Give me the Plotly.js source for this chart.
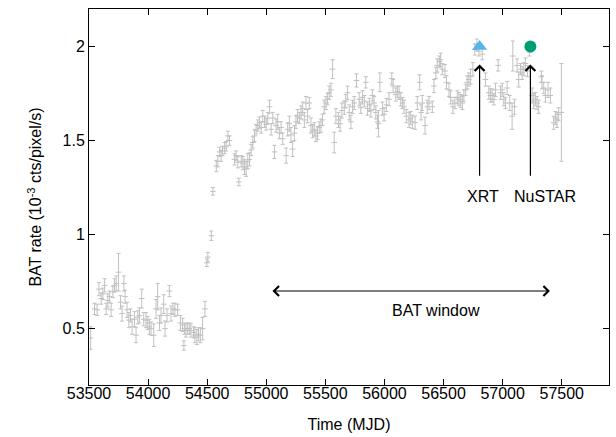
<!DOCTYPE html>
<html>
<head>
<meta charset="utf-8">
<script src="https://cdn.plot.ly/plotly-3.0.1.min.js"></script>
<style>html,body{margin:0;padding:0;background:#fff;}#chart{width:616px;height:437px;}</style>
</head>
<body>
<div id="chart"></div>
<script>
// BAT light curve (MJD, rate in 1e-3 cts/pixel/s, 1-sigma error)
const mjd = [53514,53547,53569,53584,53603,53617,53632,53645,53659,53674,53687,53702,53716,53730,53750,53767,53780,53795,53805,53822,53837,53851,53865,53885,53898,53913,53927,53946,53963,53983,53997,54011,54025,54048,54067,54081,54096,54109,54132,54143,54160,54180,54194,54211,54227,54250,54273,54292,54303,54307,54320,54335,54349,54362,54385,54396,54413,54427,54442,54461,54481,54497,54506,54535,54548,54577,54590,54605,54618,54630,54648,54661,54675,54689,54731,54745,54759,54768,54788,54802,54816,54830,54843,54858,54872,54886,54900,54914,54928,54942,54957,54970,54985,54999,55013,55027,55041,55055,55069,55083,55097,55111,55125,55139,55168,55181,55195,55209,55223,55238,55251,55265,55280,55294,55308,55322,55336,55350,55364,55378,55392,55406,55420,55434,55448,55463,55476,55490,55505,55519,55533,55547,55561,55575,55589,55611,55625,55640,55660,55672,55688,55702,55716,55730,55744,55763,55786,55800,55814,55830,55842,55856,55872,55885,55898,55912,55927,55941,55949,55961,55983,55997,56016,56039,56062,56073,56096,56110,56124,56138,56152,56166,56185,56208,56222,56236,56259,56278,56298,56310,56320,56343,56362,56377,56405,56419,56435,56447,56465,56475,56489,56512,56525,56546,56560,56579,56596,56616,56630,56645,56660,56672,56687,56700,56714,56729,56748,56765,56782,56799,56827,56855,56883,56897,56911,56926,56940,56962,56982,56996,57010,57024,57038,57060,57080,57086,57100,57122,57136,57151,57165,57179,57193,57210,57227,57249,57263,57277,57291,57305,57328,57333,57348,57362,57384,57404,57432,57446,57460,57474,57497];
const rate = [0.45,0.605,0.60,0.71,0.66,0.685,0.73,0.605,0.65,0.67,0.60,0.695,0.73,0.74,0.80,0.64,0.58,0.74,0.67,0.60,0.545,0.57,0.51,0.55,0.465,0.56,0.57,0.66,0.55,0.545,0.53,0.51,0.50,0.465,0.605,0.67,0.53,0.57,0.63,0.50,0.57,0.70,0.58,0.605,0.60,0.60,0.53,0.52,0.41,0.50,0.49,0.50,0.50,0.49,0.48,0.465,0.455,0.47,0.465,0.50,0.605,0.85,0.88,0.994,1.23,1.365,1.39,1.44,1.42,1.445,1.46,1.47,1.525,1.50,1.40,1.42,1.385,1.28,1.39,1.38,1.36,1.35,1.39,1.40,1.45,1.49,1.525,1.56,1.58,1.595,1.57,1.63,1.60,1.586,1.62,1.68,1.56,1.62,1.44,1.58,1.60,1.54,1.57,1.51,1.42,1.56,1.59,1.53,1.455,1.54,1.60,1.63,1.62,1.65,1.67,1.61,1.70,1.63,1.70,1.58,1.55,1.56,1.525,1.54,1.57,1.58,1.61,1.68,1.70,1.72,1.755,1.77,1.88,1.49,1.63,1.61,1.59,1.66,1.675,1.71,1.755,1.65,1.60,1.68,1.70,1.82,1.72,1.675,1.73,1.71,1.81,1.67,1.69,1.66,1.74,1.70,1.65,1.60,1.59,1.81,1.67,1.64,1.69,1.72,1.83,1.79,1.745,1.76,1.755,1.72,1.70,1.68,1.63,1.61,1.62,1.60,1.595,1.70,1.81,1.65,1.70,1.58,1.68,1.70,1.68,1.79,1.86,1.90,1.92,1.93,1.88,1.87,1.81,1.77,1.73,1.68,1.70,1.73,1.72,1.71,1.70,1.74,1.77,1.81,1.825,1.84,1.88,1.985,2.01,1.975,1.96,1.825,1.755,1.74,1.74,1.72,1.77,1.90,1.755,1.77,1.72,1.70,1.78,1.70,1.63,1.95,1.68,1.90,1.825,1.88,1.86,1.88,1.91,1.87,1.97,1.74,1.71,1.72,1.70,1.68,1.84,1.81,1.78,1.74,1.77,1.74,1.595,1.62,1.61,1.64,1.65];
const rateErr = [0.06,0.03,0.03,0.035,0.03,0.03,0.035,0.03,0.035,0.03,0.035,0.03,0.035,0.04,0.1,0.035,0.04,0.04,0.035,0.04,0.04,0.035,0.04,0.04,0.04,0.035,0.04,0.05,0.035,0.04,0.035,0.04,0.035,0.06,0.05,0.07,0.04,0.04,0.05,0.04,0.035,0.03,0.04,0.03,0.035,0.03,0.04,0.035,0.025,0.03,0.035,0.03,0.03,0.035,0.03,0.04,0.04,0.035,0.04,0.06,0.04,0.02,0.025,0.025,0.02,0.03,0.03,0.025,0.03,0.025,0.03,0.025,0.025,0.025,0.03,0.025,0.03,0.02,0.03,0.035,0.04,0.04,0.04,0.035,0.03,0.03,0.03,0.025,0.03,0.03,0.03,0.03,0.03,0.03,0.03,0.035,0.03,0.03,0.035,0.035,0.04,0.03,0.03,0.03,0.04,0.035,0.04,0.04,0.04,0.04,0.035,0.035,0.03,0.035,0.035,0.04,0.035,0.035,0.03,0.04,0.035,0.035,0.03,0.035,0.03,0.035,0.03,0.035,0.035,0.03,0.035,0.035,0.05,0.055,0.04,0.04,0.04,0.04,0.035,0.035,0.035,0.04,0.035,0.035,0.035,0.035,0.035,0.03,0.035,0.03,0.03,0.035,0.035,0.035,0.03,0.035,0.035,0.035,0.07,0.05,0.035,0.035,0.035,0.035,0.03,0.035,0.035,0.03,0.035,0.035,0.03,0.035,0.035,0.04,0.035,0.035,0.035,0.035,0.04,0.04,0.04,0.045,0.035,0.035,0.03,0.035,0.03,0.035,0.03,0.035,0.03,0.035,0.035,0.035,0.035,0.035,0.03,0.035,0.035,0.035,0.035,0.03,0.03,0.035,0.035,0.04,0.035,0.03,0.03,0.025,0.03,0.035,0.035,0.035,0.035,0.03,0.035,0.03,0.035,0.035,0.035,0.03,0.035,0.04,0.07,0.08,0.04,0.035,0.04,0.03,0.035,0.035,0.03,0.03,0.02,0.04,0.04,0.035,0.035,0.035,0.03,0.035,0.03,0.035,0.04,0.04,0.035,0.035,0.04,0.035,0.26];

// Observation markers
const xrtMJD = [56805];
const xrtRate = [2.0];
const nustarMJD = [57235];
const nustarRate = [2.0];

// Annotation anchors
const arrowTip = 1.905, arrowTail = 1.305, labelY = 1.205;
const xrtLabelX = 56832, nustarLabelX = 57356;
const batWindow = [55040, 57400], batWindowY = 0.70, batLabel = {x: 56432, y: 0.595};

const gray = '#c0c0c0';
const font = 'Liberation Sans, Arial, sans-serif';
const fs = 16;

const traces = [
  {
    x: mjd, y: rate, type: 'scatter', mode: 'markers',
    marker: {symbol: 'line-ew-open', size: 4, color: gray, line: {color: gray, width: 1}},
    error_y: {type: 'data', array: rateErr, visible: true, color: gray, thickness: 1, width: 2},
    hoverinfo: 'skip', showlegend: false
  },
  {
    x: xrtMJD, y: xrtRate, type: 'scatter', mode: 'markers',
    marker: {symbol: 'triangle-up', size: 13, color: '#56B4E9'}, showlegend: false
  },
  {
    x: nustarMJD, y: nustarRate, type: 'scatter', mode: 'markers',
    marker: {symbol: 'circle', size: 12, color: '#009E73'}, showlegend: false
  }
];

const axisCommon = {
  showline: true, linecolor: '#000', linewidth: 1, mirror: 'allticks',
  ticks: 'inside', ticklen: 6, tickcolor: '#000', tickwidth: 1,
  showgrid: false, zeroline: false,
  tickfont: {family: font, size: fs, color: '#000'}
};

const annotations = [
  {x: xrtMJD[0], y: arrowTip, ax: xrtMJD[0], ay: arrowTail, xref: 'x', yref: 'y', axref: 'x', ayref: 'y',
   text: '', showarrow: true, arrowhead: 4, arrowsize: 1.6, arrowwidth: 1.2, arrowcolor: '#000'},
  {x: nustarMJD[0], y: arrowTip, ax: nustarMJD[0], ay: arrowTail, xref: 'x', yref: 'y', axref: 'x', ayref: 'y',
   text: '', showarrow: true, arrowhead: 4, arrowsize: 1.6, arrowwidth: 1.2, arrowcolor: '#000'},
  {x: xrtLabelX, y: labelY, xref: 'x', yref: 'y', text: 'XRT', showarrow: false,
   font: {family: font, size: fs, color: '#000'}},
  {x: nustarLabelX, y: labelY, xref: 'x', yref: 'y', text: 'NuSTAR', showarrow: false,
   font: {family: font, size: fs, color: '#000'}},
  {x: batWindow[1], y: batWindowY, ax: batWindow[0], ay: batWindowY, xref: 'x', yref: 'y', axref: 'x', ayref: 'y',
   text: '', showarrow: true, arrowhead: 4, startarrowhead: 4, arrowside: 'end+start',
   arrowsize: 1.6, startarrowsize: 1.6, arrowwidth: 1.2, arrowcolor: '#000'},
  {x: batLabel.x, y: batLabel.y, xref: 'x', yref: 'y', text: 'BAT window', showarrow: false,
   font: {family: font, size: fs, color: '#000'}}
];

const layout = {
  width: 616, height: 437,
  margin: {l: 89, r: 7, t: 9, b: 52},
  paper_bgcolor: '#fff', plot_bgcolor: '#fff',
  font: {family: font, size: fs, color: '#000'},
  xaxis: Object.assign({}, axisCommon, {
    range: [53500, 57900], tickvals: [53500,54000,54500,55000,55500,56000,56500,57000,57500],
    tickformat: 'd', ticklabelstandoff: -6,
    title: {text: 'Time (MJD)', font: {family: font, size: fs, color: '#000'}, standoff: 17}
  }),
  yaxis: Object.assign({}, axisCommon, {
    range: [0.2, 2.2], tickvals: [0.5, 1, 1.5, 2],
    title: {text: 'BAT rate (10<sup>-3</sup> cts/pixel/s)', font: {family: font, size: fs, color: '#000'}, standoff: 16}
  }),
  annotations: annotations,
  showlegend: false
};

Plotly.newPlot('chart', traces, layout, {displayModeBar: false, staticPlot: true});
</script>
</body>
</html>
